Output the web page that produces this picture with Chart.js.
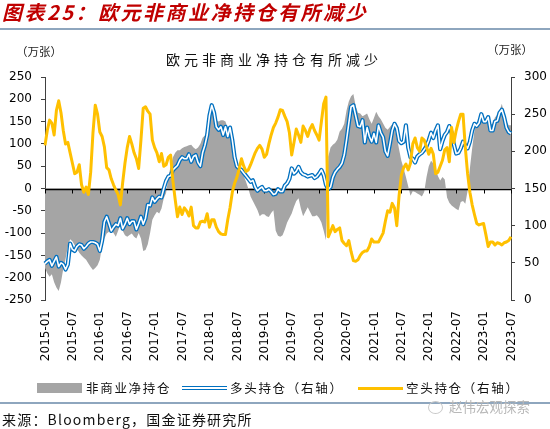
<!DOCTYPE html>
<html>
<head>
<meta charset="utf-8">
<script src="https://cdn.jsdelivr.net/npm/chart.js@4.4.0/dist/chart.umd.min.js"></script>
<style>
  html, body { margin: 0; padding: 0; background: #fff; }
  #wrap { position: relative; width: 550px; height: 429px; overflow: hidden; background: #fff; font-family: "Noto Sans CJK SC", sans-serif; }
  #c { position: absolute; left: 0; top: 0; }
  .abs { position: absolute; white-space: nowrap; }
  #hdr { left: 2px; top: 0px; font-size: 20px; line-height: 24px; letter-spacing: 2.5px; font-weight: bold; font-style: italic; color: #C00000; }
  .rule { position: absolute; left: 0; width: 550px; height: 2px; background: #8EA6BE; }
  .unit { font-size: 11.5px; line-height: 14px; color: #222; }
  #ttl { left: 0; width: 548px; text-align: center; top: 50px; font-size: 14px; line-height: 18px; letter-spacing: 4px; color: #111; }
  .leg { font-size: 12.5px; line-height: 14px; letter-spacing: 1.7px; color: #111; top: 381px; }
  #src { left: 2px; top: 410px; font-size: 14px; line-height: 18px; letter-spacing: 1.2px; color: #111; }
  #wm { left: 428px; top: 398px; font-size: 13.5px; line-height: 16px; color: #B8B8B8; }
</style>
</head>
<body>
<div id="wrap">
  <canvas id="c" width="550" height="429"></canvas>
  <div id="hdr" class="abs">图表25：欧元非商业净持仓有所减少</div>
  <div class="rule" style="top:28px"></div>
  <div class="abs unit" style="left:16px; top:44px;">（万张）</div>
  <div class="abs unit" style="left:487px; top:42px;">（万张）</div>
  <div id="ttl" class="abs">欧元非商业净持仓有所减少</div>

  <div class="abs" style="left:37px; top:383px; width:45px; height:10px; background:#A5A5A5;"></div>
  <div class="abs leg" style="left:86px;">非商业净持仓</div>
  <div class="abs" style="left:182px; top:386px; width:45px; height:1.6px; border-top:1.3px solid #0070C0; border-bottom:1.3px solid #0070C0; background:#fff;"></div>
  <div class="abs leg" style="left:230px;">多头持仓（右轴）</div>
  <div class="abs" style="left:358px; top:386.5px; width:45px; height:3px; background:#FFC000;"></div>
  <div class="abs leg" style="left:406px;">空头持仓（右轴）</div>

  <div class="rule" style="top:402px"></div>
  <div id="wm" class="abs"><span style="display:inline-block;width:13px;height:11px;border:1.3px solid #C8C8C8;border-radius:50%;vertical-align:-2px;margin-right:6px;"></span>赵伟宏观探索</div>
  <div id="src" class="abs">来源：Bloomberg，国金证券研究所</div>
</div>
<script>
// ---- data: half-monthly readings, 2015-01 .. 2023-07 ----
const startYear = 2015, endYear = 2023, endMonth = 7;
const tickMonths = ['01', '07'];

// 非商业净持仓 (left axis, 万张)
const netPosition = [
  -178, -190, -198, -192, -210, -222, -230, -210, -180, -158, -130, -114,
  -118, -127, -135, -144, -150, -155, -160, -168, -176, -183, -178, -172,
  -160, -128, -112, -101, -97, -93, -100, -108, -95, -80, -95, -105,
  -108, -104, -101, -108, -112, -100, -112, -140, -138, -125, -100, -70,
  -60, -52, -56, -45, -22, -10, 25, 50, 70, 80, 86, 86,
  90, 93, 95, 97, 98, 92, 88, 92, 100, 114, 119, 130,
  175, 192, 163, 152, 150, 153, 153, 150, 135, 127, 112, 75,
  55, 46, 41, 28, 15, 0, -18, -28, -38, -48, -62, -58,
  -58, -62, -64, -55, -49, -95, -106, -108, -105, -92, -76, -66,
  -56, -41, -28, -22, -45, -62, -52, -42, -52, -62, -62, -60,
  -66, -76, -95, -116, 71, 92, 98, 102, 110, 128, 134, 145,
  175, 195, 207, 212, 185, 170, 168, 162, 165, 168, 155, 145,
  158, 172, 162, 155, 146, 136, 132, 138, 144, 135, 115, 88,
  62, 45, 26, 5, -16, -6, -8, -11, -14, -18, -8, 25,
  50, 62, 56, 45, 28, 18, 26, 20, -20, -32, -38, -42,
  -46, -49, -30, -28, -34, -5, 45, 90, 130, 148, 155, 157,
  150, 146, 153, 144, 145, 160, 165, 175, 190, 165, 150, 142,
  142
];
// 多头持仓 (right axis)
const longPosition = [
  49, 52, 54, 46, 52, 58, 45, 50, 48, 41, 48, 76,
  68, 66, 72, 75, 74, 69, 72, 76, 78, 78, 77, 75,
  66, 80, 105, 112, 103, 93, 98, 102, 100, 110, 96, 102,
  110, 102, 106, 106, 95, 103, 112, 102, 110, 128, 127, 138,
  132, 136, 139, 138, 150, 160, 166, 167, 175, 178, 181, 188,
  192, 190, 190, 196, 186, 193, 195, 185, 180, 198, 208, 222,
  248, 262, 252, 233, 229, 233, 222, 233, 220, 232, 215, 192,
  180, 177, 175, 171, 167, 163, 159, 161, 152, 147, 150, 152,
  147, 147, 149, 146, 142, 143, 149, 146, 146, 154, 157, 163,
  177, 170, 173, 179, 172, 169, 168, 166, 167, 168, 164, 166,
  170, 175, 168, 155, 149, 152, 165, 172, 176, 179, 184, 195,
  215, 238, 260, 262, 248, 234, 233, 242, 212, 232, 220, 213,
  224, 212, 235, 225, 219, 200, 194, 210, 228, 237, 231, 214,
  211, 213, 235, 205, 192, 190, 185, 193, 196, 198, 202, 207,
  215, 225, 218, 228, 235, 203, 214, 222, 226, 234, 225, 209,
  197, 198, 204, 213, 208, 204, 213, 228, 237, 234, 238, 250,
  240, 240, 246, 228, 228, 240, 241, 252, 256, 246, 232, 226,
  224
];
// 空头持仓 (right axis)
const shortPosition = [
  208, 228, 242, 238, 222, 255, 268, 252, 228, 210, 212, 198,
  184, 170, 172, 182, 155, 145, 152, 142, 172, 225, 262, 250,
  226, 220, 206, 178, 175, 163, 155, 148, 142, 128, 158, 184,
  205, 220, 210, 198, 190, 177, 215, 258, 260, 254, 250, 215,
  205, 198, 186, 197, 180, 182, 192, 195, 160, 135, 112, 125,
  115, 124, 120, 113, 125, 100, 97, 97, 105, 106, 105, 116,
  98, 108, 108, 98, 92, 89, 88, 88, 108, 124, 145, 157,
  165, 176, 190, 180, 173, 175, 182, 190, 198, 204, 208, 203,
  192, 196, 210, 222, 232, 238, 246, 256, 255, 247, 240, 225,
  195, 212, 230, 222, 212, 234, 228, 220, 230, 236, 228, 222,
  215, 240, 264, 273, 85, 92, 100, 92, 95, 97, 80, 76,
  73, 80, 65, 53, 52, 54, 60, 64, 66, 66, 72, 82,
  78, 78, 78, 84, 90, 106, 120, 118, 130, 124, 100, 140,
  168, 178, 183, 175, 184, 210, 218, 205, 200, 218, 215, 206,
  196, 204, 196, 170, 172, 180, 188, 202, 205, 186, 232, 212,
  228, 240, 250, 250, 205, 170, 145, 128, 115, 103, 101, 102,
  103, 88, 72, 78, 78, 74, 77, 76, 74, 77, 78, 80,
  85
];

// categories: two readings per month (1st and 16th)
const periods = [];
for (let y = startYear, m = 1; y < endYear || (y === endYear && m <= endMonth); ) {
  const mm = String(m).padStart(2, '0');
  periods.push(y + '-' + mm + '-01');
  if (!(y === endYear && m === endMonth)) periods.push(y + '-' + mm + '-16');
  m++; if (m > 12) { m = 1; y++; }
}
const isTick = (p) => p.slice(8) === '01' && tickMonths.includes(p.slice(5, 7));

const decor = {
  id: 'decor',
  afterDatasetDraw(chart, args) {
    if (args.index !== 3) return;           // after the grey area: zero axis with tick marks
    const ctx = chart.ctx, xs = chart.scales.x, ys = chart.scales.y;
    const y0 = Math.round(ys.getPixelForValue(0)) + 0.5;
    ctx.save();
    ctx.strokeStyle = '#000';
    ctx.lineWidth = 1.3;
    ctx.beginPath();
    ctx.moveTo(chart.chartArea.left, y0);
    ctx.lineTo(chart.chartArea.right, y0);
    ctx.stroke();
    ctx.lineWidth = 1;
    ctx.beginPath();
    periods.forEach((p, i) => {
      if (!isTick(p)) return;
      const x = Math.round(xs.getPixelForValue(i)) + 0.5;
      ctx.moveTo(x, y0); ctx.lineTo(x, y0 + 4);
    });
    ctx.stroke();
    ctx.restore();
  },
  afterDraw(chart) {
    const ctx = chart.ctx, xs = chart.scales.x;
    ctx.save();
    ctx.fillStyle = '#000';
    ctx.font = '12px "DejaVu Sans", sans-serif';
    ctx.textAlign = 'right';
    ctx.textBaseline = 'middle';
    periods.forEach((p, i) => {
      if (!isTick(p)) return;
      const x = xs.getPixelForValue(i);
      ctx.save();
      ctx.translate(x, chart.chartArea.bottom + 11);
      ctx.rotate(-Math.PI / 2);
      ctx.fillText(p.slice(0, 7), 0, 0.5);
      ctx.restore();
    });
    ctx.restore();
  }
};

Chart.defaults.font.family = '"DejaVu Sans", sans-serif';
Chart.defaults.font.size = 12;
Chart.defaults.color = '#000';

new Chart(document.getElementById('c'), {
  type: 'line',
  data: {
    labels: periods,
    datasets: [
      { label: '空头持仓（右轴）', data: shortPosition, yAxisID: 'y1',
        borderColor: '#FFC000', borderWidth: 3, pointRadius: 0, fill: false, order: 0, tension: 0, borderJoinStyle: 'round' },
      { label: '多头持仓-inner', data: longPosition, yAxisID: 'y1',
        borderColor: '#FFFFFF', borderWidth: 1.6, pointRadius: 0, fill: false, order: 1, tension: 0, borderJoinStyle: 'round' },
      { label: '多头持仓（右轴）', data: longPosition, yAxisID: 'y1',
        borderColor: '#0070C0', borderWidth: 4.2, pointRadius: 0, fill: false, order: 2, tension: 0, borderJoinStyle: 'round' },
      { label: '非商业净持仓', data: netPosition, yAxisID: 'y',
        borderColor: 'rgba(0,0,0,0)', borderWidth: 0, backgroundColor: '#A5A5A5',
        pointRadius: 0, fill: 'origin', order: 3, tension: 0 }
    ]
  },
  plugins: [decor],
  options: {
    responsive: false,
    animation: false,
    devicePixelRatio: 1,
    layout: { padding: { top: 77, bottom: 129, left: 0, right: 0 } },
    plugins: { legend: { display: false }, tooltip: { enabled: false }, title: { display: false } },
    scales: {
      x: { type: 'category', display: false, offset: false },
      y: {
        type: 'linear', position: 'left', min: -250, max: 250,
        ticks: { stepSize: 50, padding: 9, color: '#000' },
        grid: { drawOnChartArea: false, drawTicks: true, tickLength: 4, color: '#404040' },
        border: { display: true, color: '#404040', width: 1 },
        afterFit: (s) => { s.width = 45; }
      },
      y1: {
        type: 'linear', position: 'right', min: 0, max: 300,
        ticks: { stepSize: 50, padding: 9, color: '#000' },
        grid: { drawOnChartArea: false, drawTicks: true, tickLength: 4, color: '#404040' },
        border: { display: true, color: '#404040', width: 1 },
        afterFit: (s) => { s.width = 39; }
      }
    }
  }
});
</script>
</body>
</html>
